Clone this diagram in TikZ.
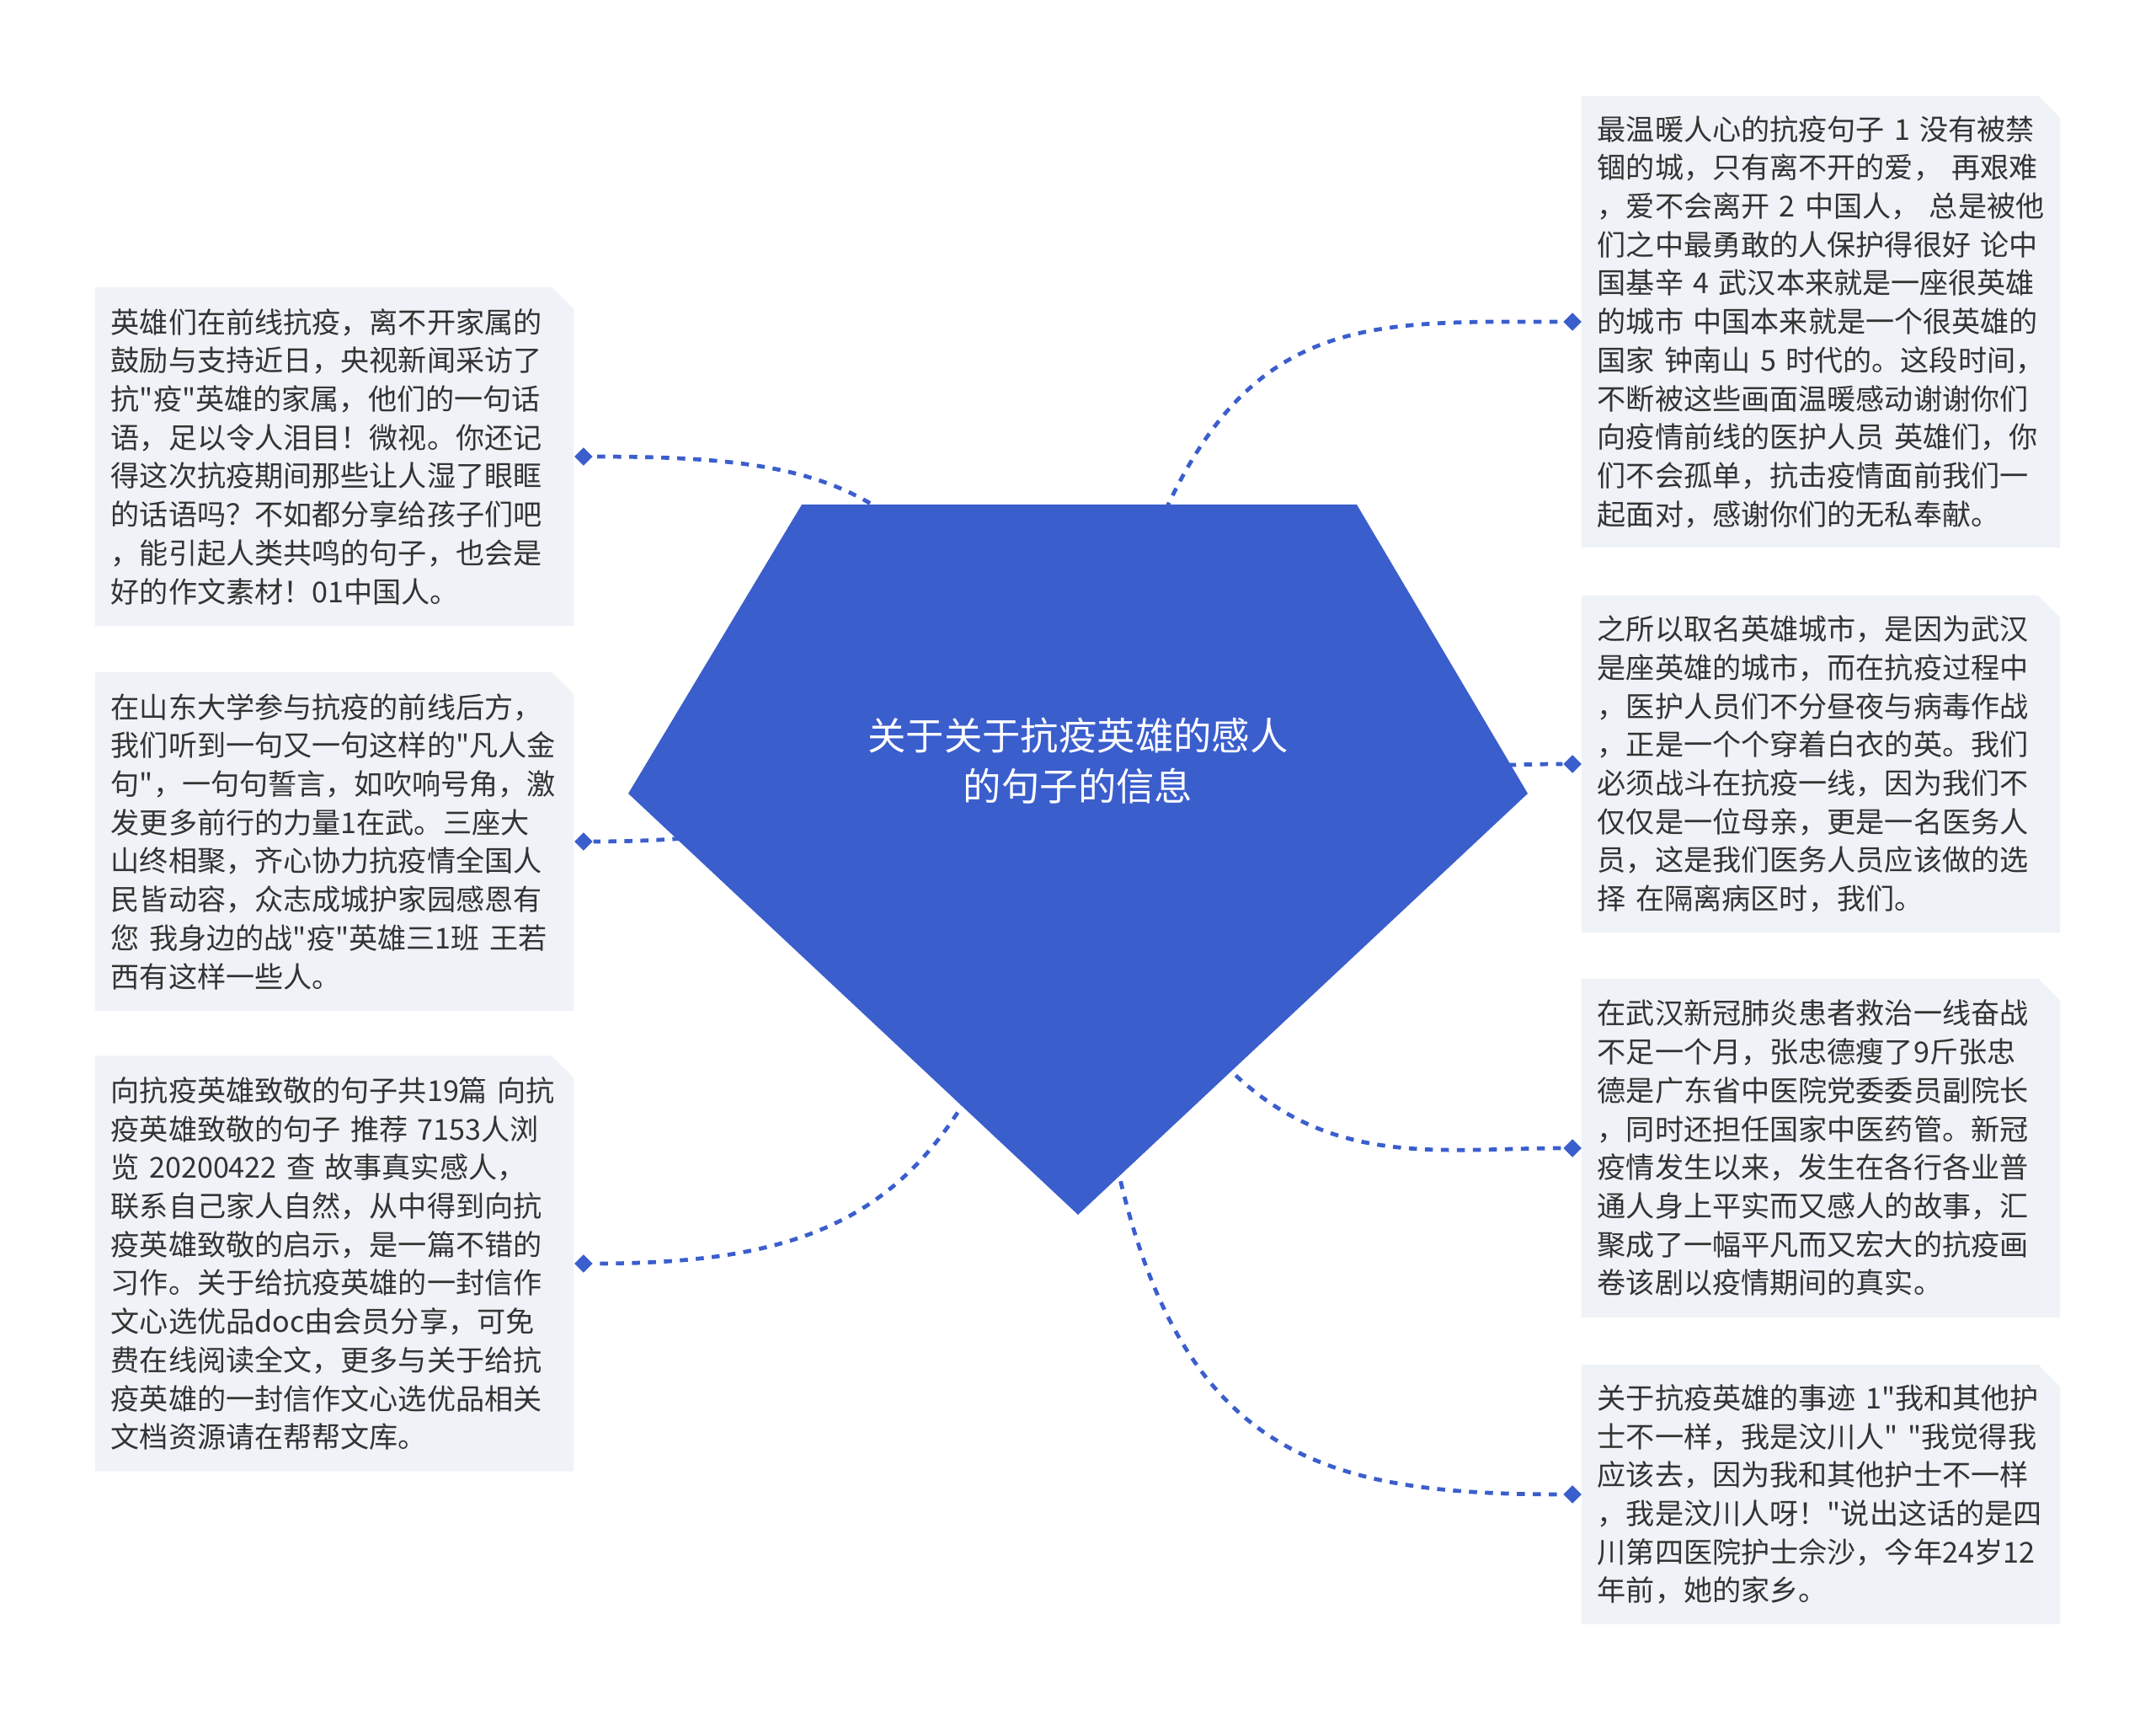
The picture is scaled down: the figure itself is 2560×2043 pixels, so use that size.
\documentclass[tikz,border=0pt]{standalone}
\usepackage{fontspec}
\usepackage{xcolor}
\usepackage{tikz}
\usetikzlibrary{shapes.geometric,shapes.misc}
\newfontfamily\cjk{Noto Sans CJK SC}
\definecolor{hubblue}{RGB}{59,94,205}
\definecolor{leafgray}{RGB}{239,242,246}
\definecolor{leaftext}{RGB}{51,51,51}

\begin{document}
\begin{tikzpicture}[x=0.01cm, y=-0.01cm,
    leafbox/.style={chamfered rectangle, chamfered rectangle corners=north east,
      chamfered rectangle xsep=0.16cm, fill=leafgray, text=leaftext,
      font=\cjk\fontsize{9.7pt}{13pt}\selectfont, align=left,
      text width=5.3cm, inner xsep=0.03cm, inner ysep=0pt},
    leafdot/.style={diamond, fill=hubblue, inner sep=0pt, minimum size=0.22cm},
    leaflink/.style={draw=hubblue, line width=1.35pt, dash pattern=on 2.7pt off 2.7pt},
    hubtext/.style={text=white, font=\cjk\fontsize{12.9pt}{17pt}\selectfont, align=center}]
  \useasboundingbox (0,0) rectangle (2560,2043);
  \coordinate (hub) at (1280,950);

  % Left leaves
  \node[leafbox, minimum height=4.02cm] (leafA) at (397,542) {英雄们在前线抗疫，离不开家属的\\
鼓励与支持近日，央视新闻采访了\\
抗"疫"英雄的家属，他们的一句话\\
语，足以令人泪目！微视。你还记\\
得这次抗疫期间那些让人湿了眼眶\\
的话语吗？不如都分享给孩子们吧\\
，能引起人类共鸣的句子，也会是\\
好的作文素材！01中国人。};
  \node[leafbox, minimum height=4.02cm] (leafB) at (397,999) {在山东大学参与抗疫的前线后方，\\
我们听到一句又一句这样的"凡人金\\
句"，一句句誓言，如吹响号角，激\\
发更多前行的力量1在武。三座大\\
山终相聚，齐心协力抗疫情全国人\\
民皆动容，众志成城护家园感恩有\\
您~我身边的战"疫"英雄三1班~王若\\
西有这样一些人。};
  \node[leafbox, minimum height=4.93cm] (leafC) at (397,1500) {向抗疫英雄致敬的句子共19篇~向抗\\
疫英雄致敬的句子~推荐~7153人浏\\
览~20200422~查~故事真实感人，\\
联系自己家人自然，从中得到向抗\\
疫英雄致敬的启示，是一篇不错的\\
习作。关于给抗疫英雄的一封信作\\
文心选优品doc由会员分享，可免\\
费在线阅读全文，更多与关于给抗\\
疫英雄的一封信作文心选优品相关\\
文档资源请在帮帮文库。};

  % Right leaves
  \node[leafbox, minimum height=5.36cm] (leafD) at (2162,382) {最温暖人心的抗疫句子~1~没有被禁\\
锢的城，只有离不开的爱，~再艰难\\
，爱不会离开~2~中国人，~总是被他\\
们之中最勇敢的人保护得很好~论中\\
国基辛~4~武汉本来就是一座很英雄\\
的城市~中国本来就是一个很英雄的\\
国家~钟南山~5~时代的。这段时间，\\
不断被这些画面温暖感动谢谢你们\\
向疫情前线的医护人员~英雄们，你\\
们不会孤单，抗击疫情面前我们一\\
起面对，感谢你们的无私奉献。};
  \node[leafbox, minimum height=4.00cm] (leafE) at (2162,907) {之所以取名英雄城市，是因为武汉\\
是座英雄的城市，而在抗疫过程中\\
，医护人员们不分昼夜与病毒作战\\
，正是一个个穿着白衣的英。我们\\
必须战斗在抗疫一线，因为我们不\\
仅仅是一位母亲，更是一名医务人\\
员，这是我们医务人员应该做的选\\
择~在隔离病区时，我们。};
  \node[leafbox, minimum height=4.02cm] (leafF) at (2162,1363) {在武汉新冠肺炎患者救治一线奋战\\
不足一个月，张忠德瘦了9斤张忠\\
德是广东省中医院党委委员副院长\\
，同时还担任国家中医药管。新冠\\
疫情发生以来，发生在各行各业普\\
通人身上平实而又感人的故事，汇\\
聚成了一幅平凡而又宏大的抗疫画\\
卷该剧以疫情期间的真实。};
  \node[leafbox, minimum height=3.08cm] (leafG) at (2162,1774) {关于抗疫英雄的事迹~1"我和其他护\\
士不一样，我是汶川人"~"我觉得我\\
应该去，因为我和其他护士不一样\\
，我是汶川人呀！"说出这话的是四\\
川第四医院护士佘沙，今年24岁12\\
年前，她的家乡。};

  % Diamonds
  \foreach \leaf in {A,B,C}{
    \node[leafdot] (dot\leaf) at ([xshift=0.11cm]leaf\leaf.east) {};
  }
  \foreach \leaf in {D,E,F,G}{
    \node[leafdot] (dot\leaf) at ([xshift=-0.10cm]leaf\leaf.west) {};
  }

  % Links
  \draw[leaflink] (hub) to[out=115, in=0, out distance=4cm, in distance=3.3cm] (dotA);
  \draw[leaflink] (hub) to[out=180, in=0] (dotB);
  \draw[leaflink] (hub) to[out=-105, in=0, out distance=4.6cm, in distance=3.5cm] (dotC);
  \draw[leaflink] (hub) to[out=78, in=180, out distance=6cm, in distance=3cm] (dotD);
  \draw[leaflink] (hub) to[out=0, in=180] (dotE);
  \draw[leaflink] (hub) to[out=-70, in=180, out distance=5cm, in distance=2.2cm] (dotF);
  \draw[leaflink] (hub) to[out=-88, in=180, out distance=7.5cm, in distance=3.7cm] (dotG);

  % Central pentagon
  \fill[hubblue] (952,599) -- (1611,599) -- (1814,942) -- (1280,1442) -- (746,942) -- cycle;
  \node[hubtext] (title) at (1280,903) {关于关于抗疫英雄的感人\\的句子的信息};
\end{tikzpicture}
\end{document}
